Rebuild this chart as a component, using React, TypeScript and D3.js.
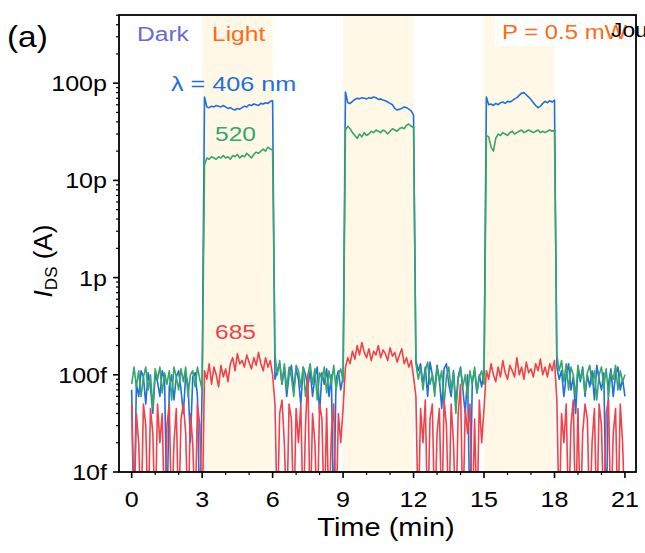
import React from "react";
import * as d3 from "d3";

// ---- data (currents in fA, sampled every 0.1 min from t = 0) ----
const SAMPLE_STEP_MIN = 0.1;

const series406 = [
  // dark 0-3
  70, 3, 80, 60, 110, 95, 50, 105, 75, 40, 100, 85, 60, 110, 90, 3, 75, 100, 55, 95, 110, 70, 40, 100, 80, 20, 95, 105, 60, 3, 80,
  // light 3-6
  72000, 57000, 56000, 58000, 57000, 59000, 58000, 57000, 59000, 57000, 55000, 56000, 54000, 53000, 55000, 54000, 56000, 58000, 57000, 60000, 59000, 61000, 60000, 59000, 62000, 61000, 63000, 62000, 65000, 66000,
  // dark 6-9
  90, 110, 130, 80, 120, 60, 100, 125, 70, 115, 90, 50, 120, 100, 75, 110, 60, 95, 120, 40, 105, 80, 115, 60, 100, 3, 90, 110, 70, 95,
  // light 9-12
  81000, 63000, 62000, 65000, 68000, 70000, 69000, 71000, 70000, 69000, 71000, 70000, 72000, 71000, 68000, 69000, 67000, 66000, 64000, 62000, 60000, 55000, 53000, 54000, 55000, 57000, 56000, 54000, 52000, 47000,
  // dark 12-15
  140, 110, 130, 80, 120, 60, 135, 100, 70, 125, 90, 45, 115, 130, 80, 60, 110, 50, 95, 120, 70, 40, 100, 3, 85, 110, 65, 100, 75, 110,
  // light 15-18
  72000, 60000, 61000, 59000, 62000, 60000, 63000, 64000, 62000, 65000, 64000, 66000, 69000, 71000, 75000, 79000, 80000, 76000, 72000, 68000, 63000, 59000, 56000, 58000, 62000, 65000, 63000, 66000, 64000, 67000,
  // dark 18-21
  120, 90, 110, 60, 100, 130, 70, 95, 40, 115, 85, 120, 60, 100, 75, 110, 55, 125, 90, 70, 105, 3, 80, 115, 60, 100, 120, 70, 90, 60,
];

const series520 = [
  80, 120, 75, 110, 60, 95, 120, 70, 100, 45, 115, 90, 120, 65, 105, 80, 110, 55, 120, 95, 70, 115, 85, 120, 60, 100, 110, 75, 120, 90, 70,
  14500, 17000, 16500, 17500, 17000, 16500, 17500, 17000, 18000, 17000, 17500, 16500, 18000, 17500, 18500, 17000, 18000, 17500, 19000, 18000, 17000, 18500, 19500, 19000, 20000, 21000, 20000, 22000, 21000, 20500,
  160, 100, 140, 80, 130, 70, 120, 95, 60, 125, 110, 75, 120, 60, 100, 130, 80, 115, 55, 105, 90, 120, 65, 110, 80, 125, 70, 100, 115, 85,
  33000, 36000, 34000, 31000, 29000, 27000, 30000, 28000, 31000, 29000, 30000, 32000, 31000, 33000, 32000, 31000, 33000, 32000, 30000, 32000, 34000, 33000, 32000, 34000, 35000, 34000, 37000, 38000, 36000, 35000,
  130, 90, 120, 70, 110, 135, 80, 100, 60, 120, 85, 110, 50, 95, 120, 70, 105, 40, 90, 115, 75, 100, 60, 110, 80, 120, 65, 95, 110, 80,
  29000, 28000, 22000, 20000, 27000, 30000, 29000, 31000, 30000, 29000, 31000, 32000, 30000, 31000, 32000, 33000, 31000, 32000, 33000, 32000, 31000, 32000, 33000, 31000, 32000, 31000, 32000, 33000, 32000, 33000,
  160, 110, 140, 85, 130, 70, 120, 100, 60, 125, 90, 115, 65, 105, 125, 80, 110, 55, 100, 120, 75, 115, 60, 105, 90, 125, 70, 110, 85, 100,
];

const series685 = [
  50, 3, 40, 20, 3, 50, 30, 3, 45, 25, 3, 50, 20, 40, 3, 30, 50, 3, 20, 45, 3, 35, 50, 25, 3, 40, 20, 3, 50, 30, 3,
  110, 90, 130, 80, 120, 100, 75, 125, 95, 115, 85, 130, 150, 110, 165, 130, 140, 120, 160, 135, 115, 150, 125, 170, 130, 110, 150, 120, 140, 100,
  50, 3, 40, 55, 20, 3, 50, 35, 3, 45, 20, 50, 3, 30, 100, 3, 40, 20, 3, 50, 35, 3, 45, 3, 25, 50, 3, 40, 20, 45,
  120, 150, 130, 175, 145, 200, 160, 215, 170, 150, 185, 140, 175, 160, 200, 150, 180, 165, 140, 190, 155, 170, 135, 160, 185, 130, 150, 120, 140, 95,
  60, 3, 45, 20, 55, 3, 35, 50, 3, 25, 45, 3, 55, 30, 3, 50, 20, 3, 40, 80, 3, 45, 25, 50, 3, 35, 3, 55, 20, 45,
  110, 90, 130, 100, 85, 120, 95, 140, 105, 90, 125, 110, 95, 150, 100, 120, 90, 135, 105, 115, 95, 130, 110, 145, 100, 120, 95, 130, 110, 140,
  55, 3, 40, 20, 50, 3, 30, 55, 3, 45, 3, 25, 50, 35, 3, 20, 45, 3, 50, 30, 3, 40, 55, 3, 25, 45, 3, 50, 20, 3,
];

const lightPeriods: [number, number][] = [
  [3, 6],
  [9, 12],
  [15, 18],
];

const xTicks = [0, 3, 6, 9, 12, 15, 18, 21];
const yTicks = [10, 100, 1000, 10000, 100000];
const yTickLabels = ["10f", "100f", "1p", "10p", "100p"];

const COLORS = {
  b406: "#1f6fde",
  g520: "#37a66a",
  r685: "#f0424a",
  dark: "#6a6ad0",
  light: "#ff6a14",
  shade: "#fff8e6",
};

const FONT = "Arial, 'Liberation Sans', Helvetica, sans-serif";

// text stretched horizontally like the reference's lettering
function SText(props: {
  x: number;
  y: number;
  size: number;
  sx?: number;
  anchor?: "start" | "middle" | "end";
  fill?: string;
  children: React.ReactNode;
}) {
  const { x, y, size, sx = 1.12, anchor = "start", fill = "#000", children } = props;
  return (
    <text
      transform={`translate(${x},${y}) scale(${sx},1)`}
      fontSize={size}
      textAnchor={anchor}
      fill={fill}
    >
      {children}
    </text>
  );
}

export default function App() {
  const W = 645;
  const H = 553;
  const L = 119, R = 636, T = 15, B = 472;

  const x = d3.scaleLinear().domain([-0.54, 21.47]).range([L, R]);
  const y = d3.scaleLog().domain([10, 503000]).range([B, T]);

  const line = d3
    .line<number>()
    .x((_, i) => x(i * SAMPLE_STEP_MIN))
    .y((v) => y(Math.max(v, 1)));

  const minorY: number[] = [];
  for (let dec = 10; dec < 1e6; dec *= 10) {
    for (let k = 2; k <= 9; k++) {
      const v = dec * k;
      if (v <= 503000) minorY.push(v);
    }
  }
  const minorX: number[] = d3.range(0, 22, 1).filter((v) => v % 3 !== 0);

  return (
    <svg
      width={W}
      height={H}
      style={{ position: "absolute", left: 0, top: 0, background: "#fff" }}
      fontFamily={FONT}
    >
      <defs>
        <clipPath id="plotClip">
          <rect x={L} y={T} width={R - L} height={B - T} />
        </clipPath>
      </defs>

      {/* light shading */}
      {lightPeriods.map(([a, b], i) => (
        <rect key={i} x={x(a)} y={T} width={x(b) - x(a)} height={B - T} fill={COLORS.shade} />
      ))}
      {/* white label box covering part of the last shade */}
      <rect x={495} y={T} width={R - 495} height={31} fill="#fff" />

      {/* traces */}
      <g clipPath="url(#plotClip)" fill="none" strokeWidth={1.6} strokeLinejoin="round">
        <path d={line(series406) || ""} stroke={COLORS.b406} />
        <path d={line(series520) || ""} stroke={COLORS.g520} />
        <path d={line(series685) || ""} stroke={COLORS.r685} />
      </g>

      {/* frame */}
      <rect x={L} y={T} width={R - L} height={B - T} fill="none" stroke="#000" strokeWidth={1.8} />

      {/* y ticks */}
      {yTicks.map((v, i) => (
        <g key={"yt" + i}>
          <line x1={L - 6} x2={L} y1={y(v)} y2={y(v)} stroke="#000" strokeWidth={1.6} />
          <SText x={L - 12} y={y(v) + 8} size={22} sx={1.14} anchor="end">
            {yTickLabels[i]}
          </SText>
        </g>
      ))}
      {minorY.map((v, i) => (
        <line key={"ym" + i} x1={L - 3} x2={L} y1={y(v)} y2={y(v)} stroke="#000" strokeWidth={1.2} />
      ))}

      {/* x ticks */}
      {xTicks.map((v) => (
        <g key={"xt" + v}>
          <line x1={x(v)} x2={x(v)} y1={B} y2={B + 6} stroke="#000" strokeWidth={1.6} />
          <SText x={x(v)} y={B + 35} size={22} sx={1.14} anchor="middle">
            {v}
          </SText>
        </g>
      ))}
      {minorX.map((v) => (
        <line key={"xm" + v} x1={x(v)} x2={x(v)} y1={B} y2={B + 3} stroke="#000" strokeWidth={1.2} />
      ))}

      {/* axis titles */}
      <SText x={386} y={536} size={25} sx={1.16} anchor="middle">
        Time (min)
      </SText>
      <text transform="translate(52,261) rotate(-90)" fontSize={26} textAnchor="middle" fill="#000">
        <tspan fontStyle="italic">I</tspan>
        <tspan fontSize={17} dy={5}>DS</tspan>
        <tspan dy={-5}> (A)</tspan>
      </text>

      {/* annotations */}
      <SText x={7} y={47} size={29} sx={1.15}>(a)</SText>
      <SText x={137} y={41} size={21} sx={1.17} fill={COLORS.dark}>Dark</SText>
      <SText x={212} y={41} size={21} sx={1.17} fill={COLORS.light}>Light</SText>
      <SText x={502} y={39} size={21} sx={1.14} fill={COLORS.light}>P = 0.5 mW</SText>
      <SText x={611} y={37} size={20} sx={1.14}>Jou</SText>
      <SText x={171} y={91} size={21} sx={1.2} fill={COLORS.b406}>λ = 406 nm</SText>
      <SText x={215} y={141} size={21} sx={1.17} fill={COLORS.g520}>520</SText>
      <SText x={215} y={339} size={21} sx={1.17} fill={COLORS.r685}>685</SText>
    </svg>
  );
}
